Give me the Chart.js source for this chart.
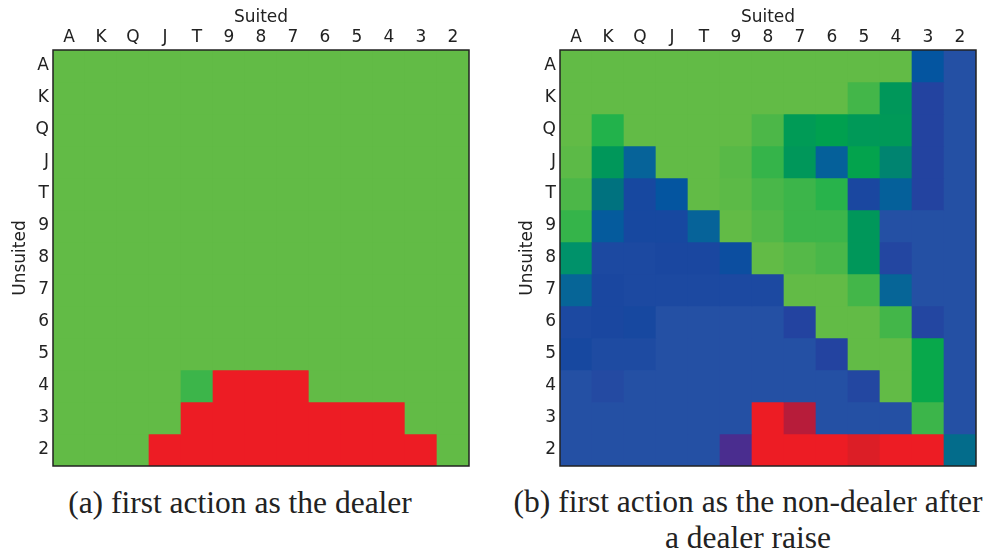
<!DOCTYPE html>
<html>
<head>
<title>Preflop strategy</title>
<script src="https://cdn.jsdelivr.net/npm/chart.js@4.4.0/dist/chart.umd.min.js"></script>
<style>
body { margin: 0; background: #fff; width: 987px; height: 558px; position: relative; overflow: hidden; }
canvas { position: absolute; top: 0; }
#dealerChart { left: 0; }
#nonDealerChart { left: 507px; }
.caption {
    position: absolute;
    font-family: "Liberation Serif", "Times New Roman", serif;
    font-size: 31.5px;
    color: #222;
    text-align: center;
    white-space: nowrap;
    line-height: 36px;
}
</style>
</head>
<body>
<canvas id="dealerChart" width="480" height="475"></canvas>
<canvas id="nonDealerChart" width="480" height="475"></canvas>
<div class="caption" style="left:0; width:480px; top:485px;">(a) first action as the dealer</div>
<div class="caption" style="left:508px; width:480px; top:484px;">(b) first action as the non-dealer after<br>a dealer raise</div>

<script>
var ranks = ['A', 'K', 'Q', 'J', 'T', '9', '8', '7', '6', '5', '4', '3', '2'];

// share of raise / fold per hand, rows = unsuited rank, cols = suited rank (rest is call)
var dealerRaise = [
    [1,1,1,1,1,1,1,1,1,1,1,1,1],
    [1,1,1,1,1,1,1,1,1,1,1,1,1],
    [1,1,1,1,1,1,1,1,1,1,1,1,1],
    [1,1,1,1,1,1,1,1,1,1,1,1,1],
    [1,1,1,1,1,1,1,1,1,1,1,1,1],
    [1,1,1,1,1,1,1,1,1,1,1,1,1],
    [1,1,1,1,1,1,1,1,1,1,1,1,1],
    [1,1,1,1,1,1,1,1,1,1,1,1,1],
    [1,1,1,1,1,1,1,1,1,1,1,1,1],
    [1,1,1,1,1,1,1,1,1,1,1,1,1],
    [1,1,1,1,0.88,0,0,0,1,1,1,1,1],
    [1,1,1,1,0,0,0,0,0,0,0,1,1],
    [1,1,1,0,0,0,0,0,0,0,0,0,1]
];
var dealerFold = [
    [0,0,0,0,0,0,0,0,0,0,0,0,0],
    [0,0,0,0,0,0,0,0,0,0,0,0,0],
    [0,0,0,0,0,0,0,0,0,0,0,0,0],
    [0,0,0,0,0,0,0,0,0,0,0,0,0],
    [0,0,0,0,0,0,0,0,0,0,0,0,0],
    [0,0,0,0,0,0,0,0,0,0,0,0,0],
    [0,0,0,0,0,0,0,0,0,0,0,0,0],
    [0,0,0,0,0,0,0,0,0,0,0,0,0],
    [0,0,0,0,0,0,0,0,0,0,0,0,0],
    [0,0,0,0,0,0,0,0,0,0,0,0,0],
    [0,0,0,0,0,1,1,1,0,0,0,0,0],
    [0,0,0,0,1,1,1,1,1,1,1,0,0],
    [0,0,0,1,1,1,1,1,1,1,1,1,0]
];

var nonDealerRaise = [
    [1,1,1,1,1,1,1,1,1,1,1,0.28,0],
    [1,1,1,1,1,1,1,1,1,0.9,0.65,0,0],
    [1,0.8,1,1,1,1,0.93,0.67,0.7,0.66,0.66,0,0],
    [0.98,0.65,0.38,1,1,0.97,0.86,0.65,0.36,0.72,0.55,0,0],
    [0.93,0.5,0.12,0.28,1,0.98,0.92,0.88,0.82,0.1,0.36,0,0],
    [0.86,0.32,0.12,0.12,0.38,1,0.95,0.88,0.88,0.65,0,0,0],
    [0.6,0.08,0.08,0.1,0.1,0.2,1,0.96,0.92,0.65,0,0,0],
    [0.4,0.1,0.08,0.08,0.08,0.08,0.08,1,1,0.9,0.4,0,0],
    [0.08,0.1,0.12,0,0,0,0,0,1,1,0.9,0,0],
    [0.12,0.06,0.06,0,0,0,0,0,0,1,1,0.75,0],
    [0,0,0,0,0,0,0,0,0,0,1,0.75,0],
    [0,0,0,0,0,0,0,0,0,0,0,0.88,0],
    [0,0,0,0,0,0,0,0,0,0,0,0,0.45]
];
var nonDealerFold = [
    [0,0,0,0,0,0,0,0,0,0,0,0,0],
    [0,0,0,0,0,0,0,0,0,0,0,0.1,0],
    [0,0,0,0,0,0,0,0,0,0,0,0.1,0],
    [0,0,0,0,0,0,0,0,0,0,0,0.1,0],
    [0,0,0,0,0,0,0,0,0,0,0,0.1,0],
    [0,0,0,0,0,0,0,0,0,0,0,0,0],
    [0,0,0,0,0,0,0,0,0,0,0.08,0,0],
    [0,0,0,0,0,0,0,0,0,0,0,0,0],
    [0,0,0,0,0,0,0,0.1,0,0,0,0.08,0],
    [0,0,0,0,0,0,0,0,0.1,0,0,0,0],
    [0,0.05,0,0,0,0,0,0,0,0.07,0,0,0],
    [0,0,0,0,0,0,1,0.75,0,0,0,0,0],
    [0,0,0,0,0,0.4,1,1,1,0.9,1,1,0]
];

// call (blue) -> raise (green)
var raiseStops = [
    [0, '#2450a4'], [0.1, '#1a47a0'], [0.2, '#0c4ea0'], [0.28, '#0455a0'],
    [0.36, '#05609a'], [0.4, '#066597'], [0.5, '#00727f'], [0.55, '#008470'],
    [0.6, '#00926a'], [0.65, '#00975a'], [0.7, '#00a04f'], [0.75, '#08a84b'],
    [0.8, '#22b24b'], [0.86, '#35b44a'], [0.9, '#43b649'], [0.95, '#52b848'],
    [1, '#62bb46']
];
// call (blue) -> fold (red)
var foldStops = [
    [0, '#2450a4'], [0.1, '#2343a0'], [0.4, '#4a2d8f'], [0.75, '#b71c3a'],
    [0.9, '#dc1e26'], [1, '#ed1c24']
];

function hexRgb(h) {
    return [parseInt(h.substr(1, 2), 16), parseInt(h.substr(3, 2), 16), parseInt(h.substr(5, 2), 16)];
}

function sampleStops(stops, t) {
    for (var k = 1; k < stops.length; k++) {
        if (t <= stops[k][0]) {
            var a = hexRgb(stops[k - 1][1]), b = hexRgb(stops[k][1]);
            var u = (t - stops[k - 1][0]) / (stops[k][0] - stops[k - 1][0]);
            var c = a.map(function(v, i) { return Math.round(v + (b[i] - v) * u); });
            return 'rgb(' + c.join(',') + ')';
        }
    }
    return stops[stops.length - 1][1];
}

function cellColour(raise, fold) {
    return fold > 0 ? sampleStops(foldStops, fold) : sampleStops(raiseStops, raise);
}

// one stacked dataset per unsuited rank, each cell one unit tall
function rowDatasets(raise, fold) {
    return ranks.map(function(rank, i) {
        return {
            label: rank,
            data: ranks.map(function() { return 1; }),
            backgroundColor: raise[i].map(function(r, j) { return cellColour(r, fold[i][j]); }),
            borderWidth: 0,
            barPercentage: 1,
            categoryPercentage: 1
        };
    });
}

var framePlugin = {
    id: 'frame',
    afterDatasetsDraw: function(chart) {
        var a = chart.chartArea, ctx = chart.ctx;
        ctx.save();
        ctx.strokeStyle = '#222';
        ctx.lineWidth = 1.5;
        ctx.strokeRect(a.left, a.top, a.right - a.left, a.bottom - a.top);
        ctx.restore();
    }
};

var tickFont = { family: '"DejaVu Sans", sans-serif', size: 17 };

function makeChart(id, raise, fold) {
    return new Chart(document.getElementById(id), {
        type: 'bar',
        data: {
            labels: ranks,
            datasets: rowDatasets(raise, fold)
        },
        plugins: [framePlugin],
        options: {
            responsive: false,
            animation: false,
            layout: { padding: { top: 0, right: 11, bottom: 9, left: 0 } },
            plugins: {
                legend: { display: false },
                tooltip: { enabled: false }
            },
            scales: {
                x: {
                    type: 'category',
                    position: 'top',
                    stacked: true,
                    grid: { display: false, drawTicks: false },
                    border: { display: false },
                    ticks: { color: '#222', font: tickFont, padding: 2, maxRotation: 0, autoSkip: false },
                    title: { display: true, text: 'Suited', color: '#222', font: tickFont, padding: { top: 7, bottom: 0 } },
                    afterFit: function(s) {
                        s.height = 50;
                        s.paddingLeft = 0;
                        s.paddingRight = 0;
                    }
                },
                y: {
                    type: 'linear',
                    stacked: true,
                    reverse: true,
                    min: 0,
                    max: 13,
                    display: false
                },
                rows: {
                    type: 'category',
                    labels: ranks,
                    position: 'left',
                    offset: true,
                    grid: { display: false, drawTicks: false },
                    border: { display: false },
                    ticks: { color: '#222', font: tickFont, padding: 4, autoSkip: false },
                    title: { display: true, text: 'Unsuited', color: '#222', font: tickFont, padding: { top: 10, bottom: 0 } },
                    afterFit: function(s) {
                        s.width = 53;
                        s.paddingTop = 0;
                        s.paddingBottom = 0;
                    }
                }
            }
        }
    });
}

makeChart('dealerChart', dealerRaise, dealerFold);
makeChart('nonDealerChart', nonDealerRaise, nonDealerFold);
</script>
</body>
</html>
